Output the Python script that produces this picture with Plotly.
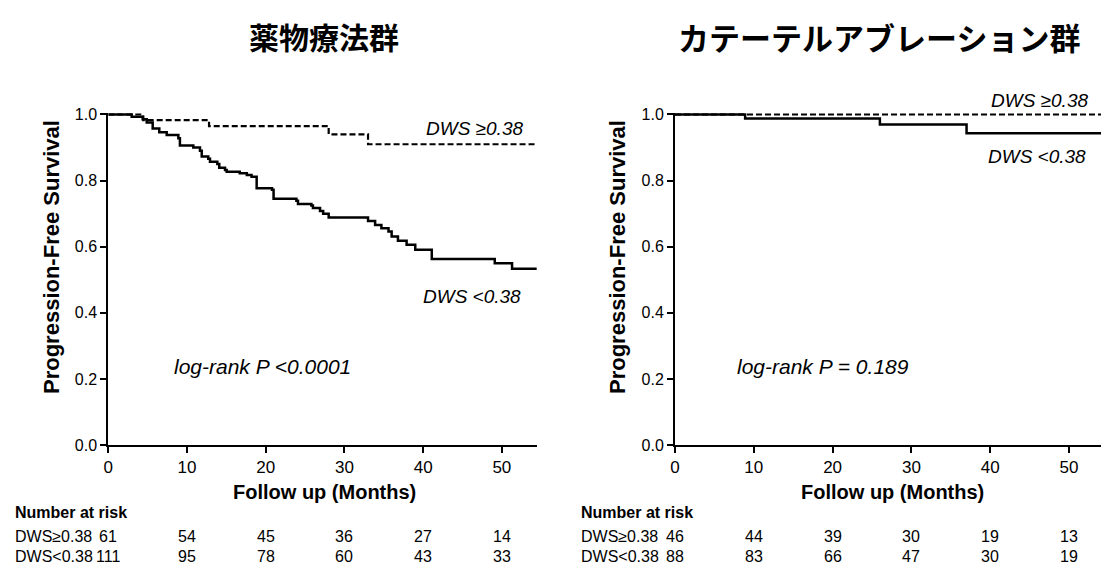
import plotly.graph_objects as go

# ---------------- data ----------------
panel_titles = ["薬物療法群", "カテーテルアブレーション群"]
group_labels = ["DWS≥0.38", "DWS<0.38"]
curve_labels = ["DWS ≥0.38", "DWS <0.38"]
pvalue_labels = ["log-rank P <0.0001", "log-rank P = 0.189"]

# Drug therapy group (left)
left_hi_t = [0, 4.45, 12.8, 28.0, 33.0, 54.5]
left_hi_s = [1.0, 0.983, 0.965, 0.940, 0.910, 0.910]
left_lo_t = [0, 2.97, 4.37, 4.88, 5.64, 6.48, 7.42, 8.9, 9.1, 10.8, 11.65, 11.87, 12.7, 12.92,
             13.85, 14.1, 14.83, 15.04, 16.7, 17.6, 18.2, 18.85, 20.8, 21.0, 23.9, 24.1, 25.8,
             26.0, 26.9, 27.3, 28.0, 33.0, 33.9, 34.7, 35.6, 36.0, 36.8, 37.9, 39.0, 41.1,
             49.1, 51.3, 54.5]
left_lo_s = [1.0, 0.993, 0.986, 0.976, 0.958, 0.946, 0.938, 0.928, 0.906, 0.900, 0.890, 0.873,
             0.866, 0.857, 0.850, 0.839, 0.832, 0.827, 0.822, 0.817, 0.812, 0.777, 0.772, 0.745,
             0.739, 0.729, 0.725, 0.717, 0.708, 0.700, 0.688, 0.678, 0.666, 0.656, 0.646, 0.631,
             0.618, 0.606, 0.591, 0.563, 0.550, 0.533, 0.533]

# Catheter ablation group (right)
right_hi_t = [0, 54.5]
right_hi_s = [1.0, 1.0]
right_lo_t = [0, 8.9, 26.0, 37.0, 54.5]
right_lo_s = [1.0, 0.988, 0.970, 0.943, 0.943]

risk_ticks = [0, 10, 20, 30, 40, 50]
left_hi_risk = [61, 54, 45, 36, 27, 14]
left_lo_risk = [111, 95, 78, 60, 43, 33]
right_hi_risk = [46, 44, 39, 30, 19, 13]
right_lo_risk = [88, 83, 66, 47, 30, 19]

y_ticks = [0.0, 0.2, 0.4, 0.6, 0.8, 1.0]

# ---------------- layout helpers ----------------
W, H = 1101, 567
def px(x):
    return x / W
def py(y):
    return 1 - y / H

FONT = "Liberation Sans, Arial, sans-serif"
CJK = "Noto Sans CJK JP, sans-serif"

fig = go.Figure()

panels = [
    dict(xa="x", ya="y", hi=(left_hi_t, left_hi_s), lo=(left_lo_t, left_lo_s)),
    dict(xa="x2", ya="y2", hi=(right_hi_t, right_hi_s), lo=(right_lo_t, right_lo_s)),
]
for p in panels:
    fig.add_trace(go.Scatter(x=p["hi"][0], y=p["hi"][1], mode="lines", line_shape="hv",
                             line=dict(color="black", width=2.2, dash="6px,3px"),
                             xaxis=p["xa"], yaxis=p["ya"], showlegend=False, hoverinfo="skip"))
    fig.add_trace(go.Scatter(x=p["lo"][0], y=p["lo"][1], mode="lines", line_shape="hv",
                             line=dict(color="black", width=2.5),
                             xaxis=p["xa"], yaxis=p["ya"], showlegend=False, hoverinfo="skip"))

# y = 0 at pixel 445, y = 1 at pixel 114.5; a little headroom keeps the 1.0 lines unclipped
Y_TOP = 1.006
y_px_per_unit = 445 - 114.5
ydom = [py(445), py(445 - Y_TOP * y_px_per_unit)]
axis_common = dict(showline=True, linecolor="black", linewidth=2, ticks="outside",
                   ticklen=6, tickwidth=2, tickcolor="black", showgrid=False, zeroline=False)
fig.update_layout(
    width=W, height=H, margin=dict(l=0, r=0, t=0, b=0, autoexpand=False),
    paper_bgcolor="white", plot_bgcolor="white",
    xaxis=dict(domain=[px(108.3), px(536.7)], range=[0, 54.43], tickvals=risk_ticks,
               anchor="y", tickfont=dict(family=FONT, size=17, color="black"), **axis_common),
    yaxis=dict(domain=ydom, range=[0, Y_TOP], tickvals=y_ticks, tickformat=".1f", anchor="x",
               tickfont=dict(family=FONT, size=16, color="black"), **axis_common),
    xaxis2=dict(domain=[px(675), 1.0], range=[0, 54.06], tickvals=risk_ticks,
                anchor="y2", tickfont=dict(family=FONT, size=17, color="black"), **axis_common),
    yaxis2=dict(domain=ydom, range=[0, Y_TOP], tickvals=y_ticks, tickformat=".1f", anchor="x2",
                tickfont=dict(family=FONT, size=16, color="black"), **axis_common),
)

def note(text, x, y, size, xanchor="center", xref="paper", angle=0, family=FONT):
    return dict(text=text, x=x, y=y, xref=xref, yref="paper", xanchor=xanchor,
                yanchor="middle", showarrow=False, textangle=angle,
                font=dict(family=family, size=size, color="black"))

ann = []
# panel titles
ann.append(note("<b>%s</b>" % panel_titles[0], px(324), py(36), 30, family=CJK))
ann.append(note("<b>%s</b>" % panel_titles[1], px(879), py(36), 31, family=CJK))

for xl, xc, lab_x in [(52, 325, 12.6), (618, 892, 579)]:
    ann.append(note("<b>Progression-Free Survival</b>", px(xl), py(257), 22, angle=-90))
    ann.append(note("<b>Follow up (Months)</b>", px(xc), py(492), 20))
    ann.append(note("<b>Number at risk</b>", px(lab_x), py(512), 16, xanchor="left"))
    ann.append(note(group_labels[0], px(lab_x), py(536), 16, xanchor="left"))
    ann.append(note(group_labels[1], px(lab_x), py(556), 16, xanchor="left"))

xrefs = ["x", "x2"]
risks = [(left_hi_risk, left_lo_risk), (right_hi_risk, right_lo_risk)]
for xr, (hi, lo) in zip(xrefs, risks):
    for t, a, b in zip(risk_ticks, hi, lo):
        ann.append(note(str(a), t, py(536), 16, xref=xr))
        ann.append(note(str(b), t, py(556), 16, xref=xr))

# curve labels and p-values
ann.append(note("<i>%s</i>" % curve_labels[0], px(525), py(128), 19, xanchor="right"))
ann.append(note("<i>%s</i>" % curve_labels[1], px(523), py(296), 19, xanchor="right"))
ann.append(note("<i>%s</i>" % pvalue_labels[0], px(172), py(366), 21, xanchor="left"))
ann.append(note("<i>%s</i>" % curve_labels[0], px(1090), py(100), 19, xanchor="right"))
ann.append(note("<i>%s</i>" % curve_labels[1], px(1088), py(156), 19, xanchor="right"))
ann.append(note("<i>%s</i>" % pvalue_labels[1], px(735), py(366), 21, xanchor="left"))

fig.update_layout(annotations=ann)
fig.write_html(
    "out.html",
    config={"responsive": False, "displayModeBar": False},
    post_script="document.body.style.margin='0';document.body.style.overflow='hidden';",
)
